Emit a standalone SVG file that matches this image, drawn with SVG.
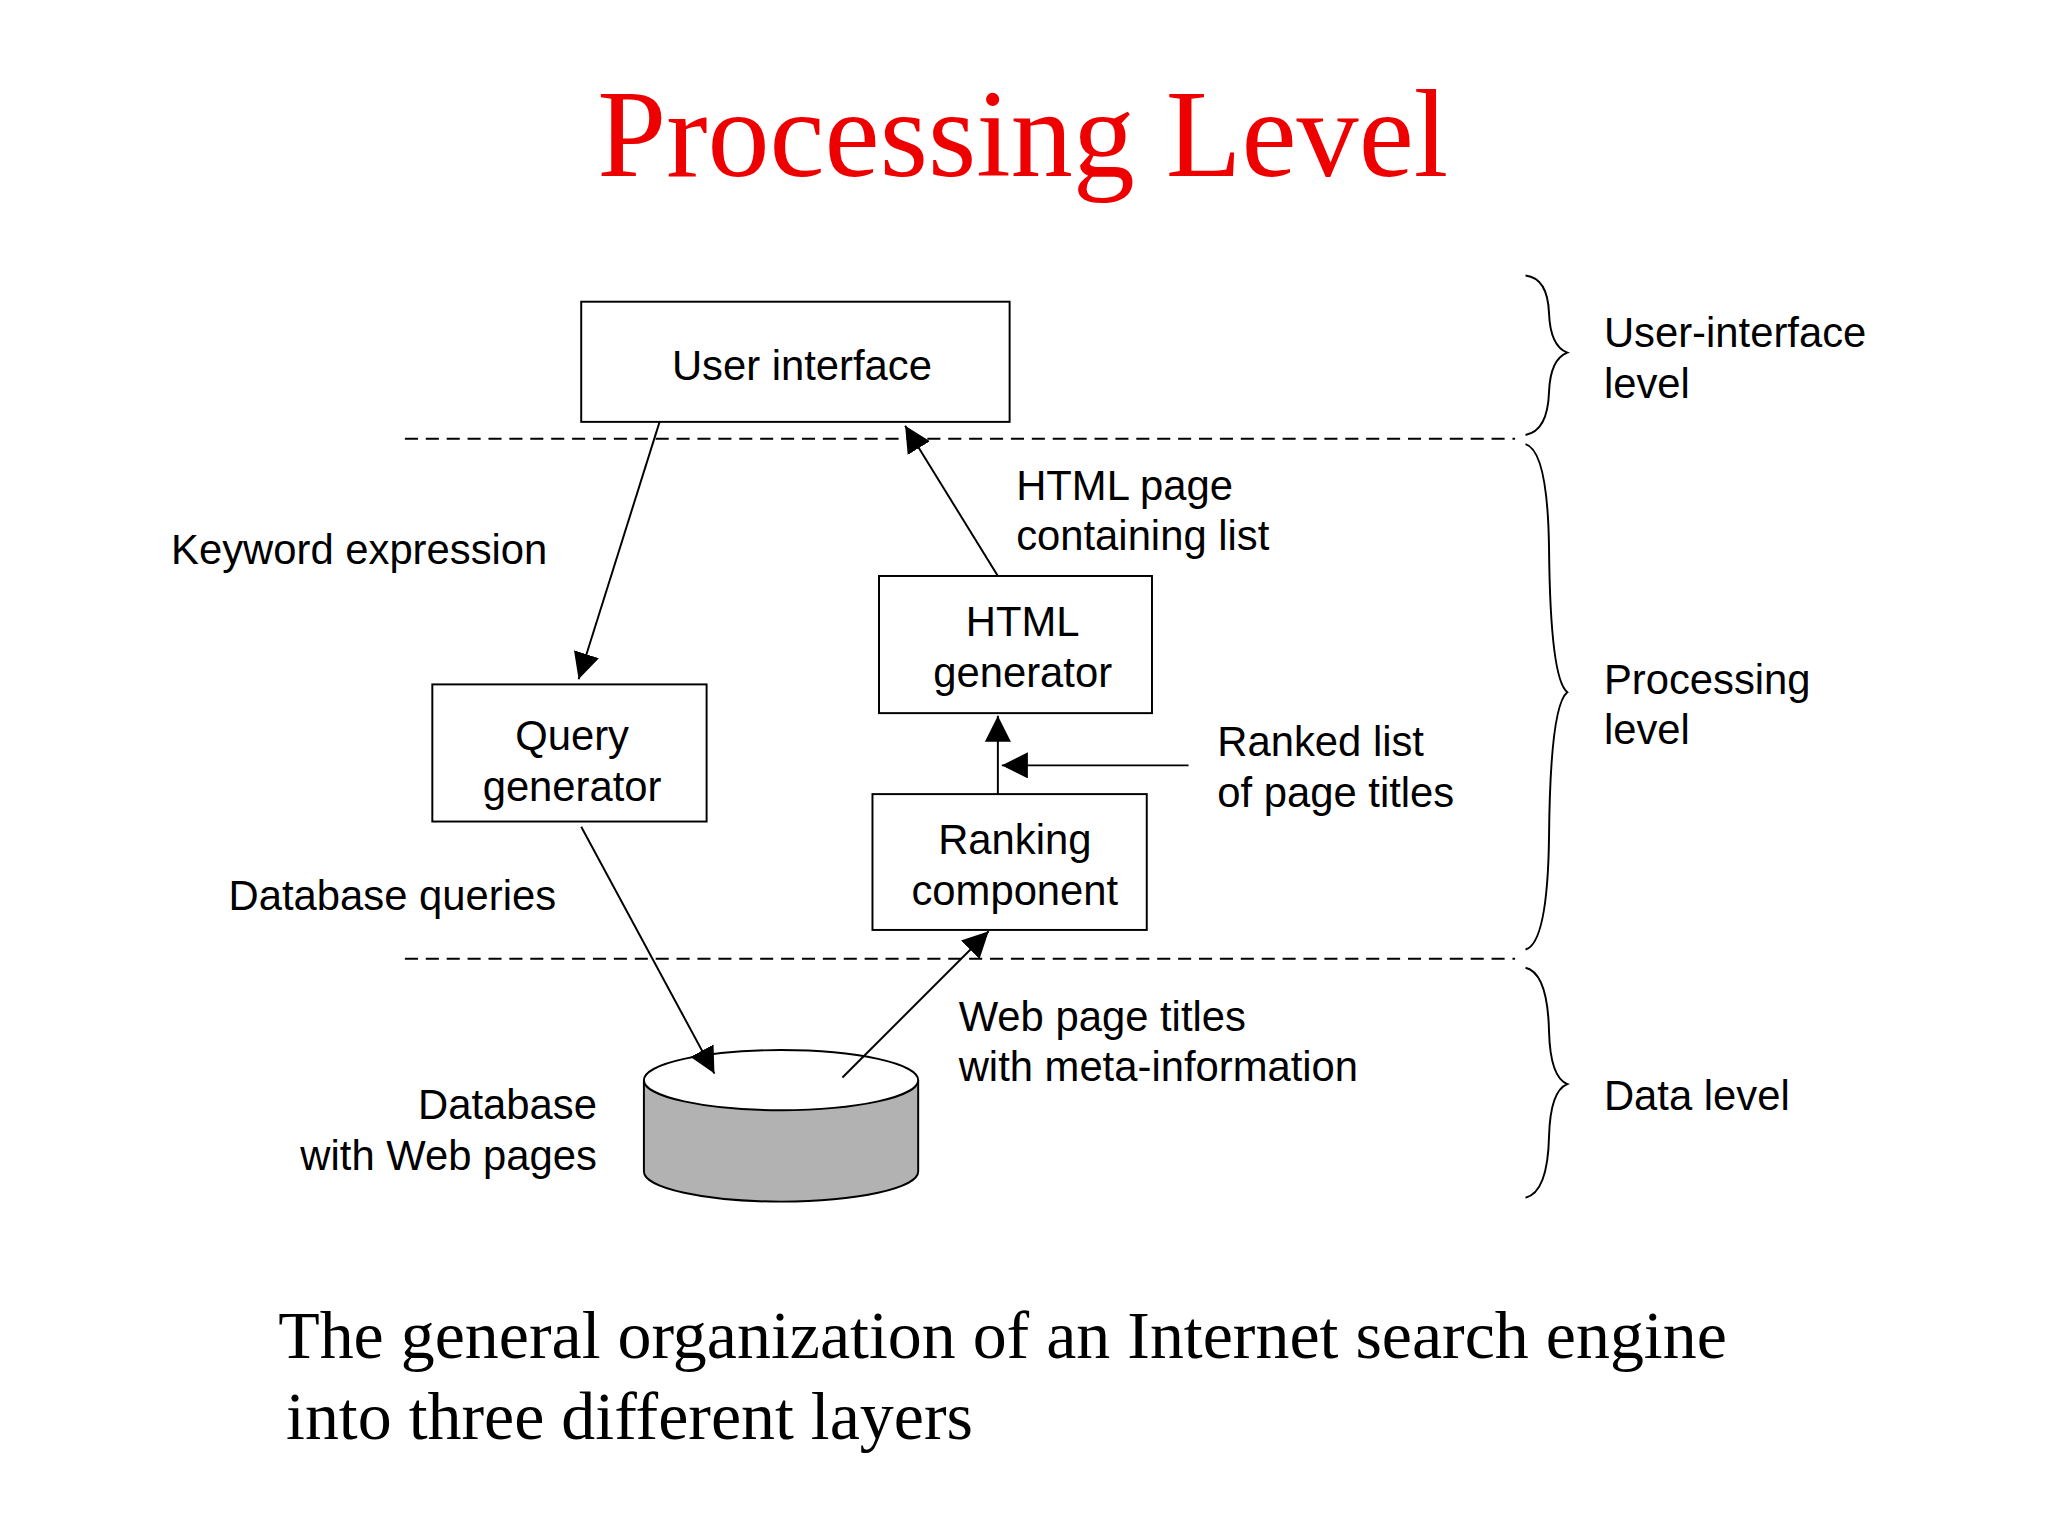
<svg xmlns="http://www.w3.org/2000/svg" width="2048" height="1536" viewBox="0 0 2048 1536">
<style>
.s{font-family:"Liberation Sans",Arial,sans-serif;font-size:32px;fill:#000}
.m{text-anchor:middle}
.b{fill:#fff;stroke:#000;stroke-width:1.5}
.c{stroke:#000;stroke-width:1.5;fill:none}
.d{stroke:#000;stroke-width:1.5;stroke-dasharray:10,6}
.t{font-family:"Liberation Serif","Times New Roman",serif;fill:#000}
</style>
<defs><marker id="a" viewBox="0 0 10 10" refX="10" refY="5" markerWidth="20" markerHeight="20" markerUnits="userSpaceOnUse" orient="auto"><path d="M0,0L10,5L0,10z" fill="#000"/></marker></defs>
<rect width="2048" height="1536" fill="#fff"/>
<g transform="scale(1.3061)">
<text x="783" y="135" class="t m" style="fill:#e00;font-size:95px">Processing Level</text>
<line class="d" x1="310" y1="336" x2="1160" y2="336"/>
<line class="d" x1="310" y1="734" x2="1160" y2="734"/>
<g id="ui"><rect class="b" x="445" y="231" width="328" height="92"/><text class="s m" x="614" y="291">User interface</text></g>
<g id="qg"><rect class="b" x="331" y="524" width="210" height="105"/><text class="s m" x="438" y="574">Query</text><text class="s m" x="438" y="613">generator</text></g>
<g id="hg"><rect class="b" x="673" y="441" width="209" height="105"/><text class="s m" x="783" y="487">HTML</text><text class="s m" x="783" y="526">generator</text></g>
<g id="rc"><rect class="b" x="668" y="608" width="210" height="104"/><text class="s m" x="777" y="654">Ranking</text><text class="s m" x="777" y="693">component</text></g>
<g id="db"><path d="M493,827 V897 A105,23 0 0 0 703,897 V827" fill="#b2b2b2" stroke="#000" stroke-width="1.5"/><ellipse cx="598" cy="827" rx="105" ry="23" class="b"/></g>
<g id="connectors">
<line class="c" x1="505" y1="323" x2="443" y2="520" marker-end="url(#a)"/>
<line class="c" x1="764" y1="441" x2="693" y2="326" marker-end="url(#a)"/>
<line class="c" x1="764" y1="608" x2="764" y2="548" marker-end="url(#a)"/>
<line class="c" x1="910" y1="586" x2="767" y2="586" marker-end="url(#a)"/>
<line class="c" x1="445" y1="633" x2="547" y2="822" marker-end="url(#a)"/>
<line class="c" x1="645" y1="825" x2="757" y2="713" marker-end="url(#a)"/>
</g>
<text class="s" x="131" y="432">Keyword expression</text>
<text class="s" x="778" y="383">HTML page</text><text class="s" x="778" y="421">containing list</text>
<text class="s" x="932" y="579">Ranked list</text><text class="s" x="932" y="618">of page titles</text>
<text class="s" x="175" y="697">Database queries</text>
<text class="s" x="734" y="789">Web page titles</text><text class="s" x="734" y="828">with meta-information</text>
<text class="s" x="457" y="857" text-anchor="end">Database</text><text class="s" x="457" y="896" text-anchor="end">with Web pages</text>
<g id="braces" class="c">
<path d="M1168,211 Q1185,213 1186,240 Q1187,265 1200,270 Q1187,275 1186,300 Q1185,330 1168,333"/>
<path d="M1168,340 Q1185,345 1186,420 Q1187,520 1200,530 Q1187,540 1186,640 Q1185,722 1168,727"/>
<path d="M1168,741 Q1185,745 1186,790 Q1187,825 1200,830 Q1187,835 1186,870 Q1185,913 1168,917"/>
</g>
<text class="s" x="1228" y="266">User-interface</text><text class="s" x="1228" y="305">level</text>
<text class="s" x="1228" y="531">Processing</text><text class="s" x="1228" y="570">level</text>
<text class="s" x="1228" y="850">Data level</text>
<text class="t" x="213" y="1040" style="font-size:52px">The general organization of an Internet search engine</text>
<text class="t" x="219" y="1102" style="font-size:52px">into three different layers</text>
</g>
</svg>
